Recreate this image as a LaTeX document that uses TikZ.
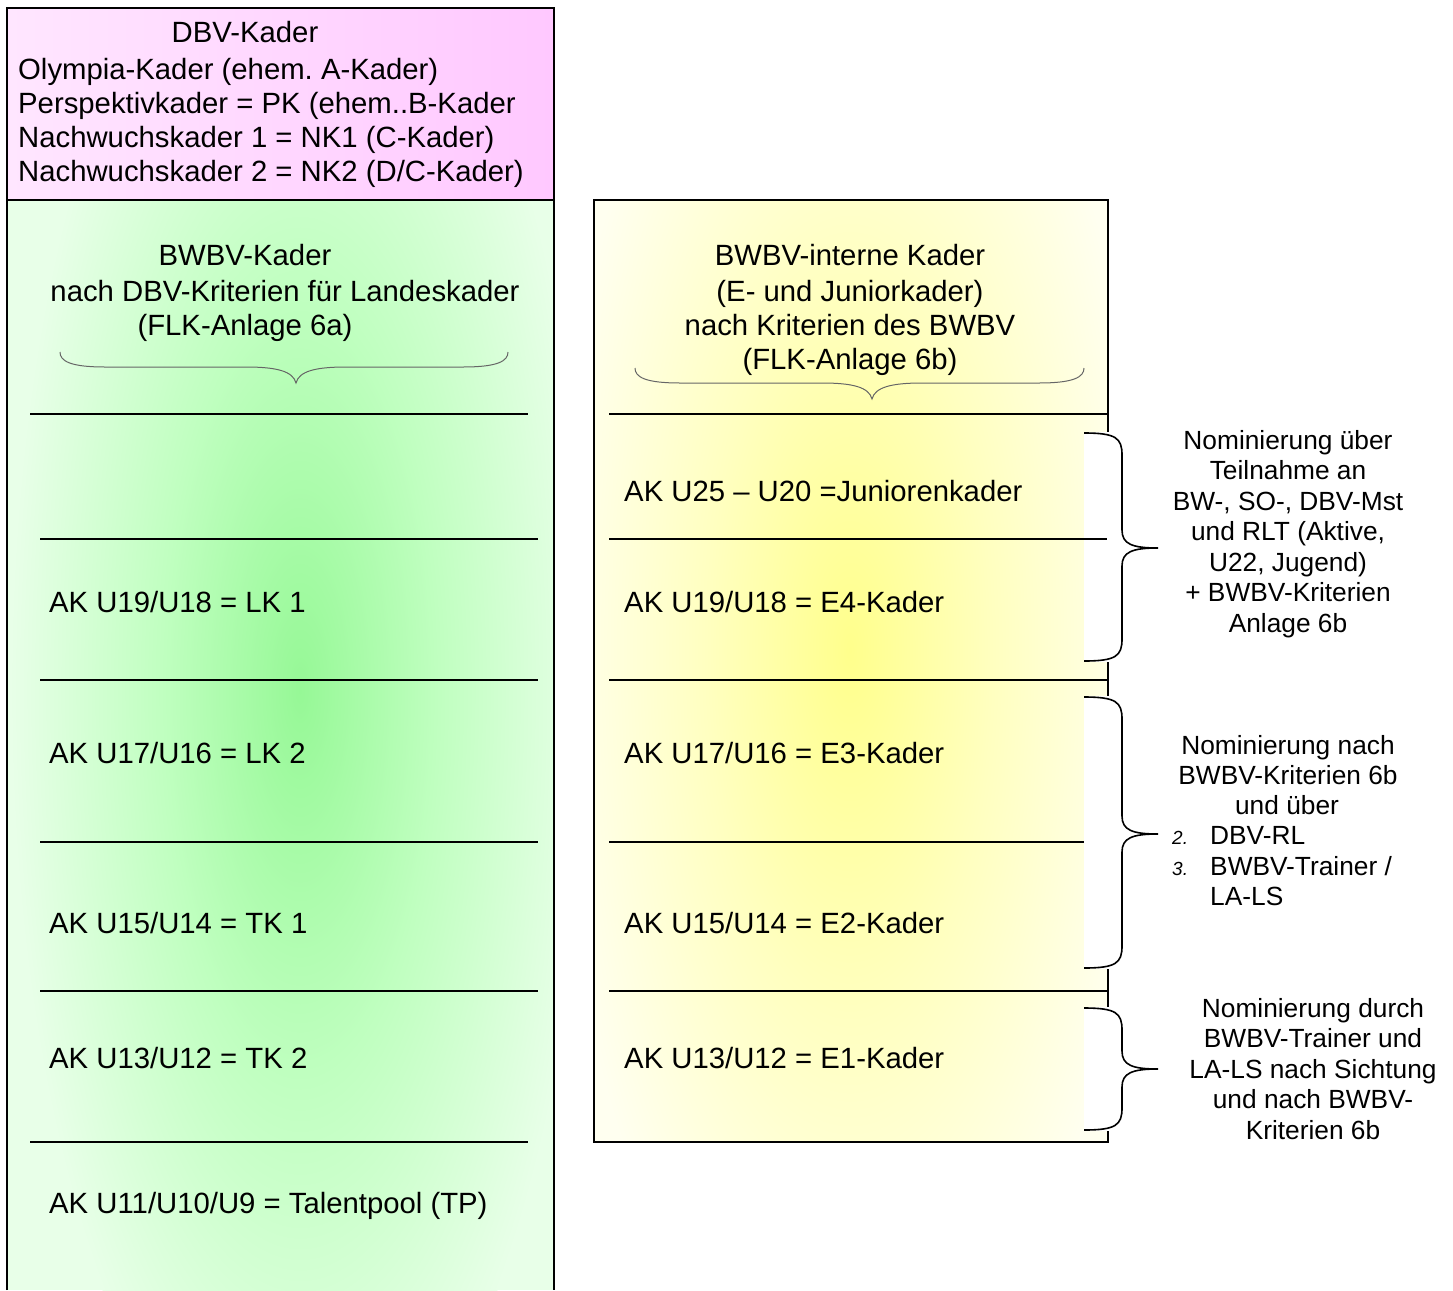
\documentclass[tikz,border=0pt]{standalone}
\usepackage{fontspec}
\setmainfont{Liberation Sans}
\frenchspacing
\definecolor{pinkL}{HTML}{FFE6FF}
\definecolor{pinkR}{HTML}{FFC8FF}
\definecolor{greenO}{HTML}{E8FFE8}
\definecolor{greenM}{HTML}{C0FFC0}
\definecolor{greenI}{HTML}{96F896}
\definecolor{yelO}{HTML}{FFFFF0}
\definecolor{yelM}{HTML}{FFFFC0}
\definecolor{yelI}{HTML}{FFFF8C}
\pgfdeclareradialshading{greensh}{\pgfpoint{0bp}{0bp}}{color(0bp)=(greenI); color(12bp)=(greenM); color(25bp)=(greenO); color(50bp)=(greenO)}
\pgfdeclareradialshading{yelsh}{\pgfpoint{0bp}{0bp}}{color(0bp)=(yelI); color(12bp)=(yelM); color(25bp)=(yelO); color(50bp)=(yelO)}
\newcommand\mybrace[3]{% top, tip, bottom (vertical brace, opens right)
  \fill[white] (1084,#1-1) rectangle (1160,#3+1);
  \draw[bracev] (1084,#1) .. controls (1116,#1) and (1122,#1+5) .. (1122,#1+22)
    -- (1122,#2-18) .. controls (1122,#2-4) and (1132,#2) .. (1158,#2)
    .. controls (1132,#2) and (1122,#2+4) .. (1122,#2+18)
    -- (1122,#3-22) .. controls (1122,#3-5) and (1116,#3) .. (1084,#3);}
\newcommand\mytopbrace[5]{% left x, tip x, right x, end y, flat y
  \draw[braceh] (#1,#4) .. controls (#1,#5-6) and (#1+10,#5) .. (#1+45,#5)
    -- (#2-50,#5) .. controls (#2-20,#5) and (#2-3,#5+4) .. (#2,#5+16)
    .. controls (#2+3,#5+4) and (#2+20,#5) .. (#2+50,#5)
    -- (#3-45,#5) .. controls (#3-10,#5) and (#3,#5-6) .. (#3,#4);}
\begin{document}
\begin{tikzpicture}[x=1pt,y=-1pt,
  big/.style={font=\fontsize{29.3}{33.7}\selectfont, inner sep=0pt},
  sml/.style={font=\fontsize{26.3}{30.3}\selectfont, inner sep=0pt},
  num/.style={font=\fontsize{19}{22}\itshape, inner sep=0pt},
  border/.style={draw=black, line width=2pt},
  sep/.style={draw=black, line width=1.7pt},
  bracev/.style={draw=black, line width=1.6pt},
  braceh/.style={draw=black!60, line width=1pt}]
\useasboundingbox (0,0) rectangle (1453,1290);
% ---------- left column ----------
\shade[left color=pinkL, right color=pinkR] (7,8) rectangle (554,200);
\fill[greenO] (7,200) rectangle (554,1290);
\begin{scope}
  \clip (7,200) rectangle (554,1290);
  \shade[shading=greensh] (300,690) ellipse (290 and 820);
\end{scope}
\draw[border] (7,1290) -- (7,8) -- (554,8) -- (554,1290);
\draw[border] (7,200) -- (554,200);
% ---------- right column ----------
\fill[yelO] (594,200) rectangle (1108,1142);
\begin{scope}
  \clip (594,200) rectangle (1108,1142);
  \shade[shading=yelsh] (850,650) ellipse (300 and 760);
\end{scope}
\draw[border] (594,200) rectangle (1108,1142);
% ---------- right braces (with white backing) ----------
\mybrace{433}{548}{661}
\mybrace{697}{834}{968}
\mybrace{1008}{1069}{1130}
% separators
\draw[sep] (30,414) -- (528,414);
\foreach \y in {539,680,842,991} \draw[sep] (40,\y) -- (538,\y);
\draw[sep] (30,1142) -- (528,1142);
\foreach \y in {414,539,680,991} \draw[sep] (609,\y) -- (1107,\y);
\draw[sep] (609,842) -- (1084,842);
% ---------- texts: DBV ----------
\node[big, anchor=base] (dbv) at (245,43) {DBV-Kader};
\node[big, anchor=base west] (d1) at (18,79) {Olympia-Kader (ehem. A-Kader)};
\node[big, anchor=base west] (d2) at (18,113) {Perspektivkader = PK (ehem..B-Kader};
\node[big, anchor=base west] (d3) at (18,147) {Nachwuchskader 1 = NK1 (C-Kader)};
\node[big, anchor=base west] (d4) at (18,181) {Nachwuchskader 2 = NK2 (D/C-Kader)};
% ---------- BWBV-Kader ----------
\node[big, anchor=base] (bw1) at (245,265) {BWBV-Kader};
\node[big, anchor=base] (bw2) at (285,301) {nach DBV-Kriterien für Landeskader};
\node[big, anchor=base] (bw3) at (245,335) {(FLK-Anlage 6a)};
\mytopbrace{60}{296}{508}{352}{367}
\node[big, anchor=base west] (l1) at (49,612) {AK U19/U18 = LK 1};
\node[big, anchor=base west] (l2) at (49,763) {AK U17/U16 = LK 2};
\node[big, anchor=base west] (l3) at (49,933) {AK U15/U14 = TK 1};
\node[big, anchor=base west] (l4) at (49,1068) {AK U13/U12 = TK 2};
\node[big, anchor=base west] (l5) at (49,1213) {AK U11/U10/U9 = Talentpool (TP)};
% ---------- BWBV-interne Kader ----------
\node[big, anchor=base] (in1) at (850,265) {BWBV-interne Kader};
\node[big, anchor=base] (in2) at (850,301) {(E- und Juniorkader)};
\node[big, anchor=base] (in3) at (850,335) {nach Kriterien des BWBV};
\node[big, anchor=base] (in4) at (850,369) {(FLK-Anlage 6b)};
\mytopbrace{635}{872}{1084}{368}{383}
\node[big, anchor=base west] (r0) at (624,501) {AK U25 – U20 =Juniorenkader};
\node[big, anchor=base west] (r1) at (624,612) {AK U19/U18 = E4-Kader};
\node[big, anchor=base west] (r2) at (624,763) {AK U17/U16 = E3-Kader};
\node[big, anchor=base west] (r3) at (624,933) {AK U15/U14 = E2-Kader};
\node[big, anchor=base west] (r4) at (624,1068) {AK U13/U12 = E1-Kader};
% ---------- right notes ----------
\foreach \t [count=\i] in {Nominierung über, Teilnahme an, {BW-, SO-, DBV-Mst}, {und RLT (Aktive,}, {U22, Jugend)}, + BWBV-Kriterien, Anlage 6b}
  \node[sml, anchor=base] (na\i) at (1288,{449+30.5*(\i-1)}) {\t};
\node[sml, anchor=base] (nb1) at (1288,754) {Nominierung nach};
\node[sml, anchor=base] (nb2) at (1288,784) {BWBV-Kriterien 6b};
\node[sml, anchor=base] (nb3) at (1287,814) {und über};
\node[num, anchor=base west] (nb4n) at (1172,844) {2.};
\node[sml, anchor=base west] (nb4) at (1210,844) {DBV-RL};
\node[num, anchor=base west] (nb5n) at (1172,875) {3.};
\node[sml, anchor=base west] (nb5) at (1210,875) {BWBV-Trainer /};
\node[sml, anchor=base west] (nb6) at (1210,905) {LA-LS};
\foreach \t [count=\i] in {Nominierung durch, BWBV-Trainer und, LA-LS nach Sichtung, und nach BWBV-, Kriterien 6b}
  \node[sml, anchor=base] (nc\i) at (1313,{1017+30.5*(\i-1)}) {\t};
\end{tikzpicture}
\end{document}
